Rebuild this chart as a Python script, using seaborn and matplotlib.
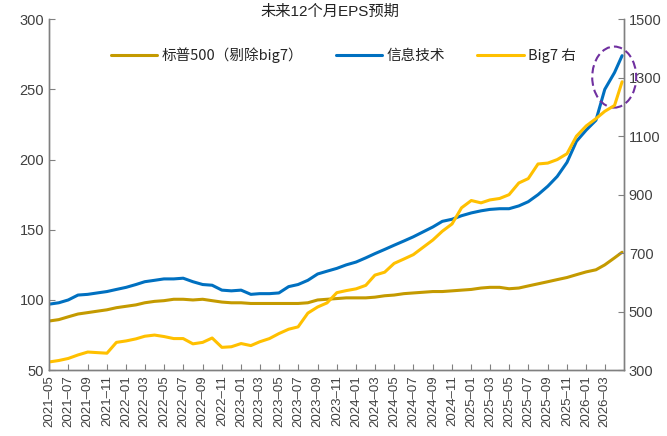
import pandas as pd
import seaborn as sns
import matplotlib.pyplot as plt
from matplotlib.patches import Ellipse

# monthly readings (1st of each month, last point = latest)
dates = list(pd.date_range('2021-05-01', '2026-04-01', freq='MS')) + [pd.Timestamp('2026-04-25')]

spx_ex_big7 = [85, 86, 88, 90, 91, 92, 93, 94.5, 95.5, 96.5,
               98, 99, 99.5, 100.5, 100.5, 100, 100.5, 99.5, 98.5, 98,
               98, 97.5, 97.5, 97.5, 97.5, 97.5, 97.5, 98, 100, 100.5,
               101, 101.5, 101.5, 101.5, 102, 103, 103.5, 104.5, 105, 105.5,
               106, 106, 106.5, 107, 107.5, 108.5, 109, 109, 108, 108.5,
               110, 111.5, 113, 114.5, 116, 118, 120, 121.5, 125, 130,
               134]

info_tech = [97, 98, 100, 103.5, 104, 105, 106, 107.5, 109, 111,
             113, 114, 115, 115, 115.5, 113, 111, 110.5, 107, 106.5,
             107, 104, 104.5, 104.5, 105, 109.5, 111, 114, 118.5, 120.5,
             122.5, 125, 127, 130, 133, 136, 139, 142, 145, 148.5,
             152, 156, 157.5, 160, 162, 163.5, 164.5, 165, 165, 167,
             170, 175, 181, 188, 198, 213, 221, 228, 250, 262,
             274]

big7 = [328, 333, 340, 352, 362, 360, 358, 395, 400, 407,
        416, 420, 415, 408, 408, 390, 395, 410, 378, 380,
        391, 384, 397, 408, 425, 440, 448, 495, 516, 530,
        565, 572, 578, 590, 625, 635, 665, 680, 695, 720,
        745, 775, 800, 855, 880, 872, 882, 887, 900, 940,
        955, 1005, 1008, 1020, 1040, 1100, 1135, 1160, 1185, 1205,
        1286]

tick_dates = pd.date_range('2021-05-01', '2026-03-01', freq='2MS')

sns.set_style('ticks')
plt.rcParams['font.family'] = ['Liberation Sans', 'Noto Sans CJK SC', 'DejaVu Sans']

fig, ax = plt.subplots(figsize=(6.67, 4.36), dpi=100)
fig.subplots_adjust(left=0.0735, right=0.9355, top=0.956, bottom=0.151)
ax2 = ax.twinx()

sns.lineplot(x=dates, y=spx_ex_big7, ax=ax, color='#C49A00', linewidth=2.2, label='标普500（剔除big7）')
sns.lineplot(x=dates, y=info_tech, ax=ax, color='#0070C0', linewidth=2.2, label='信息技术')
sns.lineplot(x=dates, y=big7, ax=ax2, color='#FFC000', linewidth=2.2, label='Big7 右')

h1, l1 = ax.get_legend_handles_labels()
h2, l2 = ax2.get_legend_handles_labels()
for a in (ax, ax2):
    if a.get_legend() is not None:
        a.get_legend().remove()
ax2.legend(h1 + h2, l1 + l2, loc='center', bbox_to_anchor=(0.512, 0.897), ncol=3,
           frameon=False, handlelength=3.2, columnspacing=2.2, handletextpad=0.3,
           prop={'family': ['Noto Sans CJK SC'], 'size': 10.5})

ax.set_xlim(pd.Timestamp('2021-05-01'), pd.Timestamp('2026-05-01'))
ax.set_ylim(50, 300)
ax2.set_ylim(300, 1500)
ax.set_yticks(range(50, 301, 50))
ax2.set_yticks(range(300, 1501, 200))
ax.set_xticks(tick_dates)
ax.set_xticklabels([d.strftime('%Y–%m') for d in tick_dates], rotation=90, fontsize=9.5, color='#404040')
ax.tick_params(axis='y', labelsize=10.5, labelcolor='#404040', direction='in', length=4, color='#808080')
ax2.tick_params(axis='y', labelsize=10.5, labelcolor='#404040', direction='in', length=4, color='#808080')
ax.tick_params(axis='x', direction='in', length=4, color='#808080')
ax.set_xlabel('')
ax.set_ylabel('')
ax2.set_ylabel('')

for a in (ax, ax2):
    a.spines['top'].set_visible(False)
    for s in ('left', 'right', 'bottom'):
        a.spines[s].set_visible(True)
        a.spines[s].set_color('#808080')
        a.spines[s].set_linewidth(1.0)

# highlight of the latest move
ax2.add_patch(Ellipse((0.983, 0.835), 0.0765, 0.174, transform=ax2.transAxes, fill=False,
                      edgecolor='#7030A0', linestyle=(0, (4, 2)), linewidth=1.5, clip_on=False))

fig.text(0.495, 0.972, '未来12个月EPS预期', ha='center', va='center', fontsize=11,
         family=['Liberation Sans', 'Noto Sans CJK SC'], color='#222222')

fig.savefig('out.png', dpi=100)
